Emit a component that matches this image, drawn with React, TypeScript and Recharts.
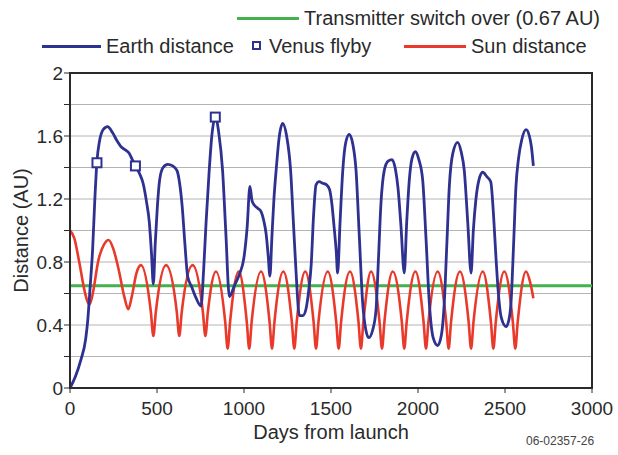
import {
  ComposedChart,
  Line,
  XAxis,
  YAxis,
  CartesianGrid,
  ReferenceLine,
  ReferenceArea,
  Label,
} from 'recharts';

// ── Data ───────────────────────────────────────────────────

const xTicks = [0, 500, 1000, 1500, 2000, 2500, 3000];
const yTicks = [0, 0.2, 0.4, 0.6, 0.8, 1, 1.2, 1.4, 1.6, 1.8, 2];
const yLabelled = [0, 0.4, 0.8, 1.2, 1.6, 2];
const switchOverAU = 0.65;

// [days from launch, AU]
const earthDistance: [number, number][] = [
  [0, 0], [30, 0.07], [63, 0.18], [90, 0.31], [102, 0.43], [115, 0.63], [130, 0.88],
  [142, 1.18], [155, 1.44], [170, 1.57], [190, 1.64], [216, 1.66], [245, 1.62],
  [270, 1.57], [295, 1.53], [320, 1.51], [340, 1.49], [358, 1.45], [376, 1.41],
  [400, 1.36], [420, 1.3], [440, 1.18], [456, 1.05], [468, 0.86], [479, 0.66],
  [490, 0.92], [502, 1.15], [515, 1.32], [535, 1.4], [561, 1.42], [590, 1.41],
  [615, 1.38], [630, 1.3], [645, 1.15], [660, 0.92], [676, 0.71], [700, 0.64],
  [725, 0.57], [753, 0.52], [768, 0.75], [782, 1.05], [800, 1.38], [815, 1.6],
  [835, 1.72], [855, 1.62], [877, 1.38], [895, 1.0], [916, 0.58], [945, 0.65],
  [973, 0.72], [1000, 0.83], [1018, 1.02], [1034, 1.28], [1046, 1.19], [1060, 1.16],
  [1080, 1.14], [1098, 1.12], [1114, 1.06], [1127, 0.98], [1139, 0.84], [1149, 0.71],
  [1160, 0.95], [1172, 1.2], [1186, 1.4], [1202, 1.59], [1222, 1.68], [1245, 1.6],
  [1268, 1.38], [1284, 1.05], [1300, 0.72], [1318, 0.46], [1338, 0.46], [1356, 0.5],
  [1372, 0.62], [1386, 0.78], [1400, 1.1], [1414, 1.29], [1432, 1.31], [1452, 1.3],
  [1475, 1.29], [1492, 1.26], [1505, 1.17], [1518, 1.02], [1530, 0.87], [1538, 0.73],
  [1552, 1.05], [1567, 1.37], [1585, 1.56], [1605, 1.61], [1625, 1.55], [1644, 1.38],
  [1662, 0.98], [1682, 0.54], [1700, 0.37], [1717, 0.32], [1740, 0.37], [1759, 0.5],
  [1772, 0.8], [1787, 1.17], [1806, 1.38], [1828, 1.44], [1851, 1.45], [1870, 1.39],
  [1885, 1.27], [1902, 1.03], [1921, 0.73], [1935, 1.05], [1950, 1.32], [1966, 1.46],
  [1985, 1.5], [2005, 1.45], [2027, 1.32], [2046, 0.95], [2065, 0.54], [2087, 0.32],
  [2113, 0.27], [2135, 0.34], [2151, 0.54], [2166, 0.92], [2180, 1.28], [2200, 1.49],
  [2228, 1.56], [2248, 1.5], [2266, 1.38], [2286, 1.05], [2305, 0.73], [2318, 1.0],
  [2333, 1.2], [2350, 1.32], [2372, 1.37], [2397, 1.34], [2418, 1.31], [2434, 1.1],
  [2448, 0.83], [2462, 0.6], [2478, 0.45], [2506, 0.39], [2522, 0.43], [2535, 0.55],
  [2549, 0.9], [2563, 1.28], [2578, 1.46], [2595, 1.57], [2621, 1.64], [2640, 1.6],
  [2652, 1.53], [2663, 1.41],
];

const venusFlyby: [number, number][] = [
  [155, 1.43], [376, 1.41], [835, 1.72],
];

const sunDistance: [number, number][] = [
  [0, 1.0], [25, 0.95], [53, 0.8], [85, 0.61], [97, 0.56], [111, 0.53], [125, 0.57],
  [165, 0.82], [195, 0.91], [222, 0.94], [250, 0.88], [282, 0.74], [312, 0.58],
  [335, 0.5], [355, 0.58], [382, 0.73], [408, 0.78], [465, 0.48], [479, 0.33],
  [493, 0.48], [552, 0.78], [614, 0.48], [628, 0.33], [642, 0.48], [705, 0.78],
  [764, 0.48], [778, 0.33], [792, 0.48], [839, 0.74], [892, 0.42], [906, 0.25],
  [920, 0.42], [970, 0.74], [1016, 0.42], [1030, 0.25], [1044, 0.42], [1098, 0.74],
  [1147, 0.42], [1161, 0.25], [1175, 0.42], [1226, 0.74], [1275, 0.42], [1289, 0.25],
  [1303, 0.42], [1352, 0.74], [1400, 0.42], [1414, 0.25], [1428, 0.42], [1481, 0.74],
  [1530, 0.42], [1544, 0.25], [1558, 0.42], [1609, 0.74], [1658, 0.42], [1672, 0.25],
  [1686, 0.42], [1730, 0.74], [1779, 0.42], [1793, 0.25], [1807, 0.42], [1855, 0.74],
  [1907, 0.42], [1921, 0.25], [1935, 0.42], [1985, 0.74], [2032, 0.42], [2046, 0.25],
  [2060, 0.42], [2113, 0.74], [2162, 0.42], [2176, 0.25], [2190, 0.42], [2241, 0.74],
  [2291, 0.42], [2305, 0.25], [2319, 0.42], [2372, 0.74], [2419, 0.42], [2433, 0.25],
  [2447, 0.42], [2496, 0.74], [2545, 0.42], [2559, 0.25], [2573, 0.42], [2621, 0.74],
  [2645, 0.67], [2663, 0.57],
];

// ── Styles ─────────────────────────────────────────────────

const BLUE = '#2e3190';
const RED = '#e8392a';
const GREEN = '#45b04f';
const INK = '#2a2a2a';
const FONT = '"Liberation Sans", Arial, Helvetica, sans-serif';

const toRows = (pts: [number, number][]) => pts.map(([day, au]) => ({ day, au }));

function SquareDot(props: any) {
  const { cx, cy, index } = props;
  if (cx == null || cy == null) return <g key={`sq-${index}`} />;
  return (
    <rect
      key={`sq-${index}`}
      x={cx - 4.5}
      y={cy - 4.5}
      width={9}
      height={9}
      fill="#fff"
      stroke={BLUE}
      strokeWidth={2}
    />
  );
}

function YTitle(props: any) {
  const vb = props.viewBox ?? { x: 0, y: 73, width: 70, height: 315 };
  const cx = 21;
  const cy = vb.y + vb.height / 2;
  return (
    <text
      x={cx}
      y={cy}
      transform={`rotate(-90, ${cx}, ${cy})`}
      textAnchor="middle"
      dominantBaseline="central"
      fill={INK}
      fontSize={20}
      fontFamily={FONT}
    >
      Distance (AU)
    </text>
  );
}

function XTitle(props: any) {
  const vb = props.viewBox ?? { x: 70, y: 388, width: 522, height: 67 };
  return (
    <text
      x={vb.x + vb.width / 2}
      y={vb.y + 51}
      textAnchor="middle"
      fill={INK}
      fontSize={20}
      fontFamily={FONT}
    >
      Days from launch
    </text>
  );
}

const legendText: React.CSSProperties = {
  position: 'absolute',
  fontSize: 20,
  lineHeight: '22px',
  color: INK,
  whiteSpace: 'nowrap',
};

function bar(left: number, top: number, width: number, color: string): React.CSSProperties {
  return { position: 'absolute', left, top, width, height: 3, background: color };
}

// ── Composant ──────────────────────────────────────────────

export default function App() {
  return (
    <div style={{ position: 'relative', width: 618, height: 455, background: '#fff', fontFamily: FONT }}>
      <style>{'body{margin:0;background:#fff}'}</style>

      {/* legend */}
      <div style={bar(237, 17, 62, GREEN)} />
      <div style={{ ...legendText, left: 304, top: 7 }}>Transmitter switch over (0.67 AU)</div>
      <div style={bar(42, 45, 59, BLUE)} />
      <div style={{ ...legendText, left: 106, top: 35 }}>Earth distance</div>
      <div
        style={{
          position: 'absolute',
          left: 252,
          top: 41,
          width: 5,
          height: 5,
          border: `2px solid ${BLUE}`,
          background: '#fff',
        }}
      />
      <div style={{ ...legendText, left: 269, top: 35 }}>Venus flyby</div>
      <div style={bar(404, 45, 62, RED)} />
      <div style={{ ...legendText, left: 471, top: 35 }}>Sun distance</div>

      <ComposedChart
        width={618}
        height={455}
        margin={{ top: 73, right: 26, bottom: 0, left: 0 }}
      >
        <CartesianGrid vertical={false} stroke="#b4b4b4" strokeWidth={1} />
        <XAxis
          type="number"
          dataKey="day"
          domain={[0, 3000]}
          ticks={xTicks}
          height={67}
          tick={{ fill: INK, fontSize: 19, fontFamily: FONT }}
          tickSize={5}
          tickMargin={9}
          stroke={INK}
          axisLine={{ stroke: INK, strokeWidth: 2 }}
        >
          <Label content={XTitle} />
        </XAxis>
        <YAxis
          type="number"
          domain={[0, 2]}
          ticks={yTicks}
          width={70}
          interval={0}
          tickFormatter={(v: number) => (yLabelled.includes(v) ? String(v) : '')}
          tick={{ fill: INK, fontSize: 19, fontFamily: FONT }}
          tickSize={6}
          tickMargin={1}
          stroke={INK}
          axisLine={{ stroke: INK, strokeWidth: 2 }}
        >
          <Label content={YTitle} />
        </YAxis>
        <ReferenceArea
          x1={0}
          x2={3000}
          y1={0}
          y2={2}
          fill="none"
          stroke={INK}
          strokeWidth={2}
        />
        <ReferenceLine y={switchOverAU} stroke={GREEN} strokeWidth={3} />
        <Line
          data={toRows(sunDistance)}
          dataKey="au"
          type="monotone"
          stroke={RED}
          strokeWidth={2.6}
          dot={false}
          activeDot={false}
          isAnimationActive={false}
        />
        <Line
          data={toRows(earthDistance)}
          dataKey="au"
          type="monotone"
          stroke={BLUE}
          strokeWidth={2.8}
          dot={false}
          activeDot={false}
          isAnimationActive={false}
        />
        <Line
          data={toRows(venusFlyby)}
          dataKey="au"
          stroke="none"
          dot={SquareDot}
          activeDot={false}
          isAnimationActive={false}
        />
      </ComposedChart>

      <div
        style={{
          position: 'absolute',
          left: 526,
          top: 434,
          fontSize: 12,
          color: '#444',
          whiteSpace: 'nowrap',
        }}
      >
        06-02357-26
      </div>
    </div>
  );
}
